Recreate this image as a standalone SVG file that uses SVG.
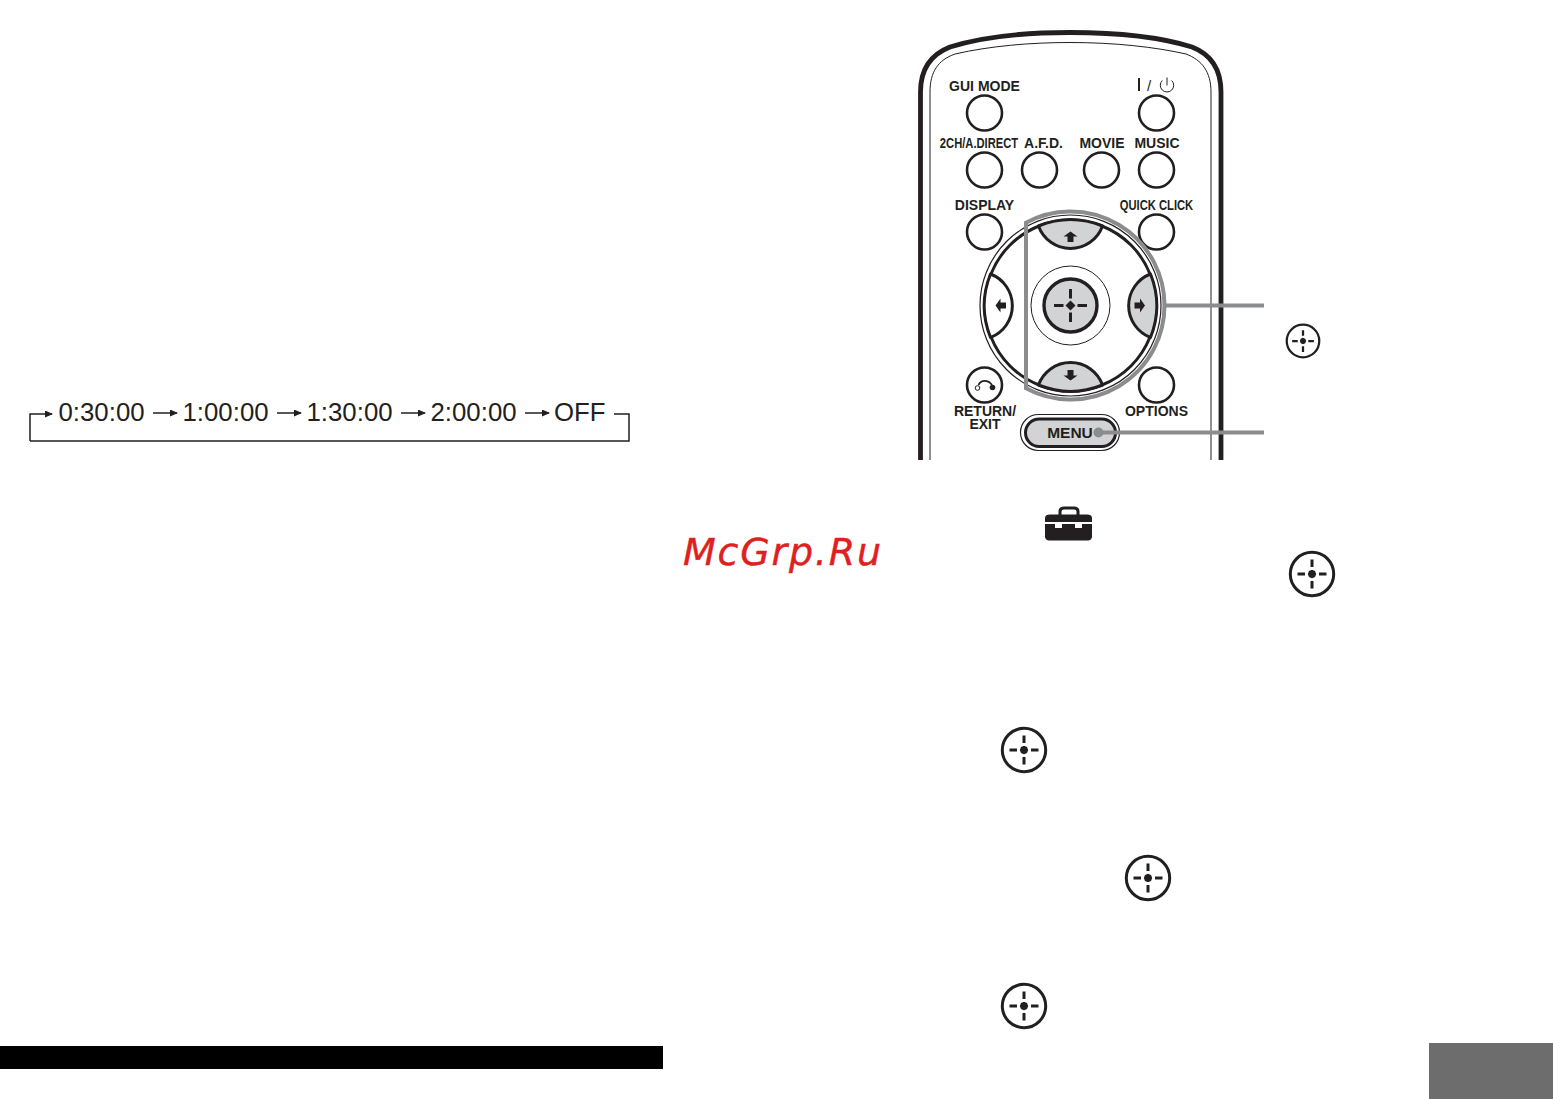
<svg xmlns="http://www.w3.org/2000/svg" width="1553" height="1099" viewBox="0 0 1553 1099">
<style>
.lbl{font-family:"Liberation Sans",Arial,sans-serif;font-weight:700;font-size:14px;fill:#231f20;text-anchor:middle}
.seq{font-family:"Liberation Sans",Arial,sans-serif;font-size:25.8px;fill:#231f20}
.btn{fill:#fff;stroke:#231f20;stroke-width:2.6}
.seg{stroke:#231f20;stroke-width:3;stroke-linejoin:round}
.lead{fill:none;stroke:#8a8c8e;stroke-width:4}
.thin{fill:none;stroke:#231f20;stroke-width:1}
.flow{fill:none;stroke:#231f20;stroke-width:1.5}
</style>
<defs>
<marker id="ah" markerWidth="9" markerHeight="8" refX="7" refY="3.5" orient="auto" markerUnits="userSpaceOnUse"><path d="M0 0L8 3.5L0 7Z" fill="#231f20"/></marker>
<g id="enter">
<circle r="21.700" fill="#fff" stroke="#231f20" stroke-width="3"/>
<path d="M0-14.500V-7M0 7V14.500M-14.500 0H-7M7 0H14.500" stroke="#231f20" stroke-width="3" fill="none"/>
<path d="M0-4.200L3-3L4.200 0L3 3L0 4.200L-3 3L-4.200 0L-3-3Z" fill="#231f20"/>
</g>
<path id="arr" d="M0-5.500L7-0.500H3V5H-3V-0.500H-7Z" fill="#231f20"/>
</defs>
<rect width="1553" height="1099" fill="#fff"/>

<g id="connectors">
<path class="flow" marker-end="url(#ah)" d="M30 441V414H52"/>
<path class="flow" d="M30 441H629V414H614"/>
<path class="flow" marker-end="url(#ah)" d="M153 413H177"/>
<path class="flow" marker-end="url(#ah)" d="M277 413H301"/>
<path class="flow" marker-end="url(#ah)" d="M401 413H425"/>
<path class="flow" marker-end="url(#ah)" d="M525 413H549"/>
</g>

<g id="timer-sequence">
<text class="seq" x="58.500" y="421">0:30:00</text>
<text class="seq" x="182.500" y="421">1:00:00</text>
<text class="seq" x="306.500" y="421">1:30:00</text>
<text class="seq" x="430.500" y="421">2:00:00</text>
<text class="seq" x="554" y="421">OFF</text>
</g>

<g id="remote">
<path fill="none" stroke="#231f20" stroke-width="4.800" d="M920.500 460V92C920.500 68 932 54 950 47C985 36 1030 32.500 1070 32.500C1115 32.500 1160 37 1192 47C1210 54 1221 68 1221 92V460"/>
<path class="thin" stroke-width="1.200" d="M930 460V92C930 72 938 60 955 54C990 46 1030 42.500 1070 42.500C1115 42.500 1155 47 1186 54C1202 60 1211 72 1211 92V460"/>

<g id="btn-gui"><text class="lbl" x="984.500" y="91">GUI MODE</text><circle class="btn" cx="984.500" cy="113" r="17.500"/></g>
<g id="btn-power">
<rect x="1138" y="78" width="2" height="13" fill="#231f20"/>
<text x="1147" y="91" font-family="Liberation Sans,Arial,sans-serif" font-size="15" fill="#231f20">/</text>
<path class="thin" stroke-width="1.300" d="M1162.300 80.500A6.700 6.700 0 1 0 1171.700 80.500M1167 77.500V85.500"/>
<circle class="btn" cx="1156.500" cy="113" r="17.500"/></g>
<g id="btn-2ch"><text class="lbl" transform="translate(979 148) scale(.8 1)">2CH/A.DIRECT</text><circle class="btn" cx="984.500" cy="170" r="17.500"/></g>
<g id="btn-afd"><text class="lbl" x="1043.500" y="148">A.F.D.</text><circle class="btn" cx="1039.500" cy="170" r="17.500"/></g>
<g id="btn-movie"><text class="lbl" x="1102" y="148">MOVIE</text><circle class="btn" cx="1101.500" cy="170" r="17.500"/></g>
<g id="btn-music"><text class="lbl" x="1157" y="148">MUSIC</text><circle class="btn" cx="1156.500" cy="170" r="17.500"/></g>
<g id="btn-display"><text class="lbl" x="984.500" y="210">DISPLAY</text><circle class="btn" cx="984.500" cy="232" r="17.500"/></g>
<g id="btn-quick"><text class="lbl" transform="translate(1156.500 210) scale(.8 1)">QUICK CLICK</text><circle class="btn" cx="1156.500" cy="232" r="17.500"/></g>

<g id="dpad">
<circle cx="1070.500" cy="305.500" r="90.500" fill="#fff" stroke="#231f20" stroke-width="1.200"/>
<circle cx="1070.500" cy="305.500" r="85.500" fill="#fff" stroke="#231f20" stroke-width="3"/>
<path class="seg" fill="#d1d3d4" d="M1038.500 226A85.500 85.500 0 0 1 1102.500 226A34 34 0 0 1 1038.500 226Z"/>
<path class="seg" fill="#d1d3d4" d="M1038.500 385A85.500 85.500 0 0 0 1102.500 385A34 34 0 0 0 1038.500 385Z"/>
<path class="seg" fill="#fff" d="M990.500 274A85.500 85.500 0 0 0 990.500 337.500A34 34 0 0 0 990.500 274Z"/>
<path class="seg" fill="#d1d3d4" d="M1150.500 274A85.500 85.500 0 0 1 1150.500 337.500A34 34 0 0 1 1150.500 274Z"/>
<use href="#arr" x="1070.500" y="237"/>
<use href="#arr" transform="translate(1070.500 375) rotate(180)"/>
<use href="#arr" transform="translate(1001 305.500) rotate(-90)"/>
<use href="#arr" transform="translate(1139.500 305.500) rotate(90)"/>
<circle class="thin" cx="1070.500" cy="305.500" r="39.500"/>
<circle cx="1070.500" cy="305.500" r="26.500" fill="#d1d3d4" stroke="#231f20" stroke-width="3.400"/>
<path d="M1070.500 289V298.500M1070.500 312.500V322M1054 305.500H1063.500M1077.500 305.500H1087" stroke="#231f20" stroke-width="3" fill="none"/>
<path d="M1070.500 300.500L1075.500 305.500L1070.500 310.500L1065.500 305.500Z" fill="#231f20"/>
<path class="lead" d="M1026 222.700A94 94 0 1 1 1026 388.300Z"/>
</g>

<g id="btn-return">
<circle class="btn" cx="984.500" cy="385" r="17.500"/>
<path d="M978.500 385C981 379.500 988 379.500 992 385" fill="none" stroke="#231f20" stroke-width="1.800"/>
<circle cx="977.500" cy="388" r="2.300" fill="#fff" stroke="#231f20" stroke-width="1"/>
<circle cx="992.500" cy="387.500" r="2.800" fill="#231f20"/>
<text class="lbl" x="985" y="416">RETURN/</text><text class="lbl" x="985" y="429">EXIT</text>
</g>
<g id="btn-options"><circle class="btn" cx="1156.500" cy="385" r="17.500"/><text class="lbl" x="1156.500" y="416">OPTIONS</text></g>
<g id="btn-menu">
<rect x="1020.500" y="414.500" width="99" height="36" rx="18" fill="#fff" stroke="#231f20" stroke-width="1.200"/>
<rect x="1025.500" y="419" width="90" height="27.500" rx="13.700" fill="#d1d3d4" stroke="#231f20" stroke-width="3"/>
<text x="1070" y="438" text-anchor="middle" font-family="Liberation Sans,Arial,sans-serif" font-weight="700" font-size="15.500" fill="#231f20">MENU</text>
</g>
</g>

<g id="leaders">
<path class="lead" d="M1164 305.500H1264M1098 432.500H1264"/>
<circle cx="1098.500" cy="432.500" r="5" fill="#8a8c8e"/>
</g>

<g id="enter-1"><use href="#enter" transform="translate(1303 341) scale(.75)"/></g>
<g id="enter-2"><use href="#enter" x="1312" y="574"/></g>
<g id="enter-3"><use href="#enter" x="1024" y="750"/></g>
<g id="enter-4"><use href="#enter" x="1148" y="878"/></g>
<g id="enter-5"><use href="#enter" x="1024" y="1006"/></g>

<g id="toolbox">
<path d="M1060 515V511.500C1060 509 1061.500 508 1064 508H1074C1076.500 508 1078 509 1078 511.500V515" fill="none" stroke="#231f20" stroke-width="3"/>
<path d="M1045 522V518C1045 515.500 1047 514.500 1050 514.500H1087C1090 514.500 1092 515.500 1092 518V522Z" fill="#231f20"/>
<path d="M1045 524H1055V528H1062V524H1075V528H1082V524H1092V536.500C1092 539 1090 540.500 1088 540.500H1049C1047 540.500 1045 539 1045 536.500Z" fill="#231f20"/>
</g>

<text id="watermark" x="683" y="565" font-family="DejaVu Sans,sans-serif" font-style="italic" font-size="38" fill="#e02020" stroke="#e02020" stroke-width=".4" textLength="198">McGrp.Ru</text>

<rect id="bottom-bar" x="0" y="1046" width="663" height="23" fill="#000"/>
<rect id="page-tab" x="1429" y="1043" width="124" height="56" fill="#6d6d6d"/>
</svg>
